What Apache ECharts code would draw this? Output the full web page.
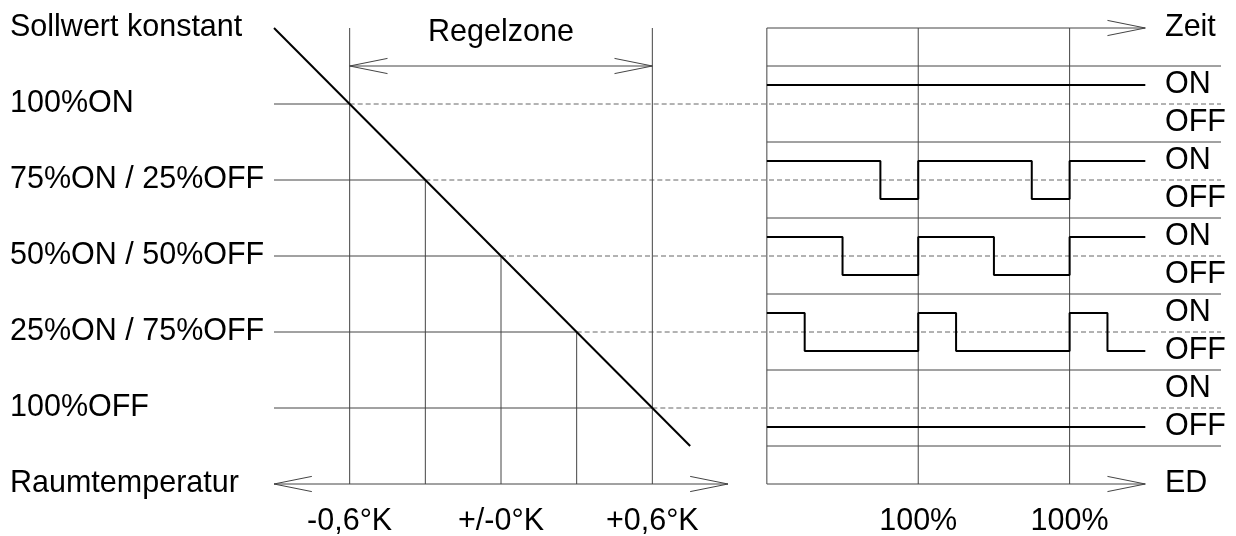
<!DOCTYPE html>
<html lang="de">
<head>
<meta charset="UTF-8">
<title>Regelzone</title>
<script src="https://cdn.jsdelivr.net/npm/echarts@6/dist/echarts.min.js"></script>
</head>
<body style="margin:0;background:#fff">
<div id="container" style="width:1236px;height:536px;"></div>
<script>
// duty levels (% ON) and the room temperature (K) where the line crosses them
var dutyLevels = [100, 75, 50, 25, 0];
var dutyTemps = [-0.6, -0.3, 0, 0.3, 0.6];
var dutyNames = ['100%ON', '75%ON / 25%OFF', '50%ON / 50%OFF', '25%ON / 75%OFF', '100%OFF'];

// Kennlinie start / end
var lineTemps = [-0.9, 0.75];
var lineDuty = [125, -12.5];

var tempTicks = [-0.6, 0, 0.6];
var tempTickNames = ['-0,6°K', '+/-0°K', '+0,6°K'];

// switching signals: [time in periods, 1 = ON / 0 = OFF]
var sig100 = [[0, 1], [2.5, 1]];
var sig75 = [[0, 1], [0.75, 0], [1, 1], [1.75, 0], [2, 1], [2.5, 1]];
var sig50 = [[0, 1], [0.5, 0], [1, 1], [1.5, 0], [2, 1], [2.5, 1]];
var sig25 = [[0, 1], [0.25, 0], [1, 1], [1.25, 0], [2, 1], [2.25, 0], [2.5, 0]];
var sig0 = [[0, 0], [2.5, 0]];
var signals = [sig100, sig75, sig50, sig25, sig0];

var periodTicks = [0, 1, 2];
var periodNames = ['', '100%', '100%'];

var FONT = '"Liberation Sans", Arial, sans-serif';
var THIN = '#444', DASH = '#666', THICK = '#000';
var HALF = 6.25; // ON/OFF offset from the level line

var series = [];
function seg(pts, grid, color, width, dashed, step) {
    series.push({
        type: 'line', xAxisIndex: grid, yAxisIndex: grid, clip: false,
        data: pts, symbol: 'none', silent: true, step: step || false,
        lineStyle: { color: color, width: width, type: dashed ? [5, 3] : 'solid' },
        z: width > 1 ? 3 : 2
    });
}
function arrow(x, y, dir, len, grid) {
    seg([[x - dir * len, y + 2.5], [x, y], [x - dir * len, y - 2.5]], grid, THIN, 1);
}

// left part
seg([[lineTemps[0], lineDuty[0]], [lineTemps[1], lineDuty[1]]], 0, THICK, 2);
dutyLevels.forEach(function (d, i) {
    var t = dutyTemps[i];
    seg([[-0.9, d], [t, d]], 0, THIN, 1);
    seg([[t, d], [0.9, d]], 0, DASH, 1, true);
    seg([[-0.25, d], [3, d]], 1, DASH, 1, true);
    var top = (i === 0 || i === dutyLevels.length - 1) ? 125 : d;
    seg([[t, top], [t, -25]], 0, THIN, 1);
});
// Regelzone double arrow
seg([[-0.6, 112.5], [0.6, 112.5]], 0, THIN, 1);
arrow(-0.6, 112.5, -1, 0.15, 0);
arrow(0.6, 112.5, 1, 0.15, 0);
series.push({
    type: 'scatter', xAxisIndex: 0, yAxisIndex: 0, symbolSize: 0, silent: true,
    data: [[0, 112.5]], itemStyle: { opacity: 1 },
    label: { show: true, position: 'top', distance: 18, formatter: 'Regelzone',
        fontFamily: FONT, fontSize: 30.5, color: '#000' }
});
// Raumtemperatur axis
seg([[-0.9, -25], [0.9, -25]], 0, THIN, 1);
arrow(-0.9, -25, -1, 0.15, 0);
arrow(0.9, -25, 1, 0.15, 0);

// right part
seg([[0, 125], [2.5, 125]], 1, THIN, 1);
arrow(2.5, 125, 1, 0.25, 1);
seg([[0, -25], [2.5, -25]], 1, THIN, 1);
arrow(2.5, -25, 1, 0.25, 1);
periodTicks.forEach(function (t) {
    seg([[t, 125], [t, -25]], 1, THIN, 1);
});
dutyLevels.forEach(function (d) {
    seg([[0, d + 12.5], [3, d + 12.5]], 1, THIN, 1);
});
seg([[0, -12.5], [3, -12.5]], 1, THIN, 1);
signals.forEach(function (s, i) {
    var d = dutyLevels[i];
    seg(s.map(function (p) { return [p[0], d + (p[1] ? HALF : -HALF)]; }), 1, THICK, 2, false, 'end');
});

// right labels
var rightVals = [125, -25], rightNames = { '125': 'Zeit', '-25': 'ED' };
dutyLevels.forEach(function (d) {
    rightVals.push(d + HALF, d - HALF);
    rightNames[d + HALF] = 'ON';
    rightNames[d - HALF] = 'OFF';
});
var leftNames = { '125': 'Sollwert konstant', '-25': 'Raumtemperatur' };
dutyLevels.forEach(function (d, i) { leftNames[d] = dutyNames[i]; });

var hidden = { axisLine: { show: false }, axisTick: { show: false }, splitLine: { show: false } };
var lbl = { fontFamily: FONT, fontSize: 30.5, color: '#000' };

var chart = echarts.init(document.getElementById('container'), null, { renderer: 'canvas' });
chart.setOption({
    animation: false,
    backgroundColor: '#fff',
    grid: [
        { left: 274, top: 28, width: 454, height: 456, outerBoundsMode: 'none' },
        { left: 729, top: 28, width: 492, height: 456, outerBoundsMode: 'none' }
    ],
    xAxis: [
        Object.assign({ type: 'value', gridIndex: 0, min: -0.9, max: 0.9,
            axisLabel: Object.assign({ customValues: tempTicks, margin: 22,
                formatter: function (v) { return tempTickNames[tempTicks.indexOf(v)]; } }, lbl) }, hidden),
        Object.assign({ type: 'value', gridIndex: 1, min: -0.25, max: 3,
            axisLabel: Object.assign({ customValues: periodTicks, margin: 22,
                formatter: function (v) { return periodNames[periodTicks.indexOf(v)]; } }, lbl) }, hidden)
    ],
    yAxis: [
        Object.assign({ type: 'value', gridIndex: 0, min: -25, max: 125, interval: 25,
            axisLabel: Object.assign({ align: 'left', margin: 264, padding: [12, 0, 0, 0],
                formatter: function (v) { return leftNames[v] || ''; } }, lbl) }, hidden),
        Object.assign({ type: 'value', gridIndex: 1, min: -25, max: 125, position: 'right',
            axisLabel: Object.assign({ customValues: rightVals, align: 'left', margin: -56,
                padding: [12, 0, 0, 0],
                formatter: function (v) { return rightNames[v] || ''; } }, lbl) }, hidden)
    ],
    series: series
});
</script>
</body>
</html>
